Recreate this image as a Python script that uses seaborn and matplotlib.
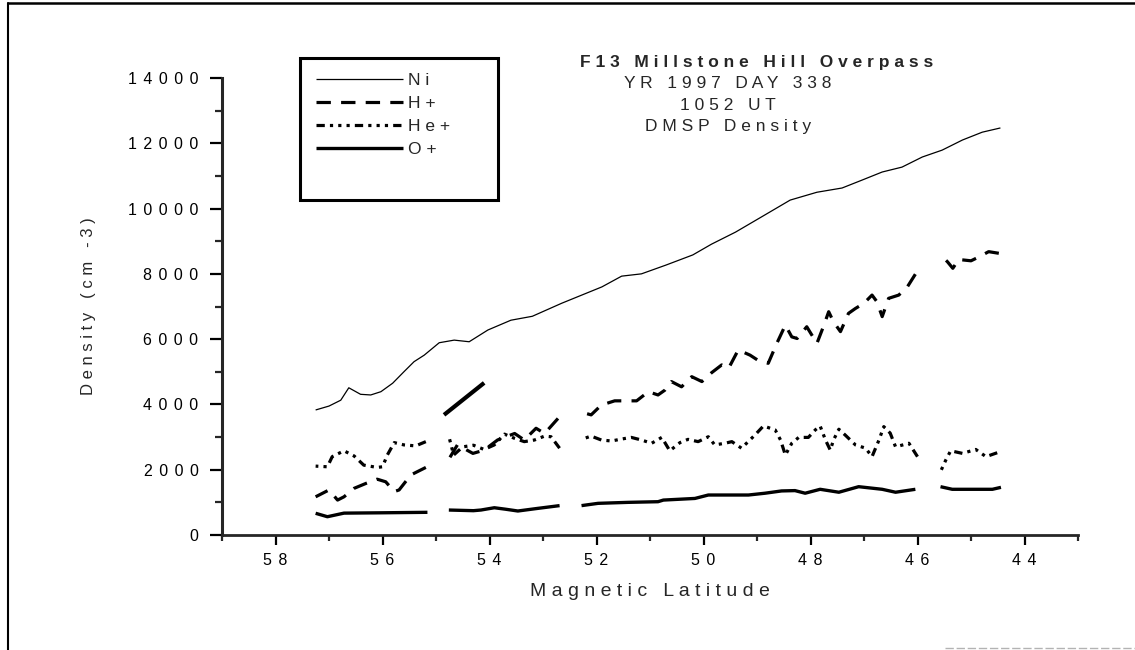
import numpy as np
import pandas as pd
import matplotlib
matplotlib.use("Agg")
import matplotlib.pyplot as plt
from matplotlib.lines import Line2D
from matplotlib.patches import Rectangle
import seaborn as sns

# ---------------------------------------------------------------------------
# DMSP F13 ion densities along the Millstone Hill overpass (NaN = data gap)
# ---------------------------------------------------------------------------
ni_lat = [57.25, 57.0, 56.78, 56.63, 56.41, 56.22, 56.03, 55.81, 55.6, 55.41,
          55.22, 54.94, 54.66, 54.38, 54.03, 53.6, 53.2, 52.65, 51.9, 51.53,
          51.16, 50.7, 50.2, 49.85, 49.4, 48.91, 48.38, 47.88, 47.41, 47.04,
          46.66, 46.29, 45.91, 45.54, 45.16, 44.79, 44.45]
ni_val = [3830, 3950, 4130, 4510, 4310, 4290, 4390, 4650, 5000, 5310,
          5510, 5890, 5970, 5920, 6280, 6580, 6700, 7100, 7600, 7930,
          8000, 8270, 8580, 8910, 9280, 9750, 10260, 10500, 10630, 10870,
          11120, 11270, 11580, 11790, 12100, 12340, 12470]

hplus_lat = [57.25, 57.0, 56.84, 56.72, 56.53, 56.31, 56.1, 55.94, 55.78, 55.69,
             55.47, 55.19, np.nan,
             54.75, 54.6, 54.31, 54.1, 53.85, 53.53, 53.35, 53.13, 52.97, 52.72,
             np.nan,
             52.32, 52.1, 51.91, 51.66, 51.41, 51.25, 51.03, 50.85, 50.72, 50.6,
             50.41, 50.22, 50.03, 49.85, 49.66, 49.53, 49.35, 49.13, 48.97, 48.79,
             48.63, 48.47, 48.35, 48.25, 48.07, 47.88, 47.76, 47.66, 47.57, 47.44,
             47.29, 47.16, 47.0, 46.85, 46.76, 46.66, 46.54, 46.35, 46.19, 46.04,
             np.nan,
             45.6, 45.44, 45.34, 45.23, 45.0, 44.85, 44.67, 44.48]
hplus_val = [1170, 1380, 1070, 1170, 1430, 1580, 1710, 1630, 1330, 1380,
             1840, 2070, np.nan,
             2350, 2760, 2500, 2600, 2910, 3110, 2910, 3270, 3110, 3570,
             np.nan,
             3780, 3680, 3980, 4110, 4110, 4110, 4390, 4290, 4440, 4700,
             4540, 4850, 4700, 4970, 5210, 5110, 5670, 5510, 5340, 5260,
             5870, 6430, 6070, 6020, 6380, 5870, 6380, 6840, 6530, 6230,
             6790, 6940, 7100, 7350, 7150, 6690, 7250, 7350, 7600, 7990,
             np.nan,
             8630, 8370, 8170, 8440, 8400, 8520, 8680, 8630]

# short isolated H+ burst just after the first gap
burst_lat = [54.85, 54.1]
burst_val = [3680, 4660]

heplus_lat = [57.25, 57.03, 56.94, 56.72, 56.53, 56.35, 56.1, 56.0, 55.91, 55.78,
              55.6, 55.38, 55.19, np.nan,
              54.75, 54.67, 54.5, 54.3, 54.1, 53.91, 53.72, 53.53, 53.35, 53.16,
              52.97, 52.85, 52.69, np.nan,
              52.28, 52.1, 51.91, 51.72, 51.53, 51.35, 51.16, 50.97, 50.78, 50.63,
              50.44, 50.29, 50.1, 49.91, 49.79, 49.6, 49.47, 49.29, 49.04, 48.88,
              48.66, 48.56, 48.47, 48.35, 48.22, 48.04, 47.91, 47.82, 47.72, 47.63,
              47.57, 47.47, 47.35, 47.16, 46.97, 46.85, 46.72, 46.63, 46.51, 46.41,
              46.16, 46.0, np.nan,
              45.57, 45.47, 45.38, 45.16, 44.91, 44.72, 44.51]
heplus_val = [2110, 2090, 2400, 2580, 2420, 2140, 2070, 2090, 2450, 2830,
              2760, 2730, 2860, np.nan,
              2960, 2450, 2700, 2750, 2620, 2760, 3090, 2960, 2860, 2910,
              3030, 3010, 2660, np.nan,
              2930, 3030, 2910, 2880, 2940, 2990, 2910, 2810, 2990, 2580,
              2830, 2930, 2860, 3010, 2760, 2810, 2860, 2660, 3060, 3340,
              3220, 2910, 2450, 2810, 2990, 2990, 3220, 3340, 2910, 2600,
              2910, 3240, 3060, 2760, 2660, 2400, 2910, 3320, 3120, 2700,
              2810, 2400, np.nan,
              1940, 2300, 2580, 2500, 2620, 2400, 2520]

oplus_lat = [57.25, 57.03, 56.72, 56.03, 55.16, np.nan,
             54.76, 54.3, 54.16, 53.91, 53.7, 53.47, 53.1, 52.69, np.nan,
             52.28, 51.97, 51.41, 50.85, 50.75, 50.16, 49.91, 49.16, 48.85, 48.54,
             48.29, 48.1, 47.82, 47.47, 47.1, 46.66, 46.41, 46.04, np.nan,
             45.57, 45.35, 44.6, 44.44]
oplus_val = [665, 560, 670, 680, 695, np.nan,
             765, 745, 765, 835, 790, 735, 815, 900, np.nan,
             900, 970, 1000, 1020, 1070, 1120, 1225, 1225, 1280, 1350,
             1360, 1280, 1400, 1310, 1480, 1400, 1310, 1400, np.nan,
             1480, 1400, 1400, 1460]

series_names = ["Ni", "H+", "He+", "O+"]

xtick_values = [58, 56, 54, 52, 50, 48, 46, 44]
ytick_values = [0, 2000, 4000, 6000, 8000, 10000, 12000, 14000]

title_lines = ["F13 Millstone Hill Overpass", "YR 1997 DAY 338", "1052 UT", "DMSP Density"]
x_label = "Magnetic Latitude"
y_label = "Density (cm -3)"

THIN = "\u2009"


def spaced(text, gap=" ", word_gap="   "):
    """Letter-spaced text: `gap` between letters, `word_gap` between words."""
    return word_gap.join(gap.join(word) for word in text.split(" "))


def segments(lat, val):
    """Long-form frame with a segment id so NaN gaps break the line."""
    lat = np.asarray(lat, dtype=float)
    val = np.asarray(val, dtype=float)
    seg = np.cumsum(np.isnan(lat))
    df = pd.DataFrame({"lat": lat, "val": val, "seg": seg})
    return df.dropna()


sns.set_style("ticks")
plt.rcParams["font.family"] = ["Liberation Sans", "DejaVu Sans"]

W, H = 1135, 650
fig = plt.figure(figsize=(W / 100, H / 100), dpi=100)
fig.patch.set_facecolor("white")

ax_left, ax_right, ax_top, ax_bottom = 222, 1078, 78, 535
ax = fig.add_axes([ax_left / W, 1 - ax_bottom / H,
                   (ax_right - ax_left) / W, (ax_bottom - ax_top) / H])

styles = {
    "Ni": dict(linewidth=0.9, linestyle="-"),
    "H+": dict(linewidth=2.3, linestyle=(0, (4.5, 3.2))),
    "He+": dict(linewidth=2.3, linestyle=(0, (2.6, 1.6, 1.0, 1.6, 1.0, 1.6, 1.0, 1.6))),
    "O+": dict(linewidth=2.4, linestyle="-"),
}
data = {
    "Ni": (ni_lat, ni_val),
    "H+": (hplus_lat, hplus_val),
    "He+": (heplus_lat, heplus_val),
    "O+": (oplus_lat, oplus_val),
}

for name in series_names:
    lat, val = data[name]
    sns.lineplot(data=segments(lat, val), x="lat", y="val", units="seg",
                 estimator=None, color="black", ax=ax, legend=False,
                 solid_capstyle="butt", dash_capstyle="butt", **styles[name])

sns.lineplot(x=burst_lat, y=burst_val, color="black", linewidth=3.0,
             ax=ax, legend=False, solid_capstyle="butt")

ax.set_xlim(59, 43)
ax.set_ylim(0, 14000)
ax.set_xticks(xtick_values)
ax.set_xticks(np.arange(43, 60, 2), minor=True)
ax.set_yticks(ytick_values)
ax.set_yticks(np.arange(1000, 14000, 2000), minor=True)
ax.set_xticklabels([spaced(str(v), THIN * 2) for v in xtick_values])
ax.set_yticklabels([spaced(str(v), THIN * 2) for v in ytick_values])

for side in ("top", "right"):
    ax.spines[side].set_visible(False)
ax.spines["left"].set_linewidth(2.2)
ax.spines["bottom"].set_linewidth(2.0)

ax.tick_params(axis="both", which="major", direction="out", width=1.6,
               labelsize=11.5, colors="black")
ax.tick_params(axis="y", which="major", length=9, pad=8)
ax.tick_params(axis="y", which="minor", direction="out", length=5, width=1.6)
ax.tick_params(axis="x", which="major", length=7, pad=6)
ax.tick_params(axis="x", which="minor", direction="out", length=4.5, width=1.6)

ax.set_xlabel(spaced(x_label), fontsize=14)
ax.set_ylabel(spaced(y_label), fontsize=12)
ax.xaxis.set_label_coords(0.5, (ax_bottom - 592) / (ax_bottom - ax_top))
ax.yaxis.set_label_coords((88 - ax_left) / (ax_right - ax_left), 0.5)
ax.xaxis.label.set_va("center")
ax.yaxis.label.set_va("center")

# title block
title_y = [62, 84, 106, 127]
title_x = [757, 728, 728, 728]
for i, (line, tx, ty) in enumerate(zip(title_lines, title_x, title_y)):
    fig.text(tx / W, 1 - ty / H, spaced(line), ha="center", va="center",
             fontsize=12.5, fontweight="bold" if i == 0 else "normal")

# legend inside a heavy box
fig.add_artist(Rectangle((300 / W, 1 - 200 / H), 198 / W, 142 / H,
                         transform=fig.transFigure, fill=False,
                         edgecolor="black", linewidth=2.2))
handles = [Line2D([0], [0], color="black", solid_capstyle="butt",
                  dash_capstyle="butt", **styles[n]) for n in series_names]
fig.legend(handles, [spaced(n) for n in series_names], loc="upper left",
           bbox_to_anchor=(316 / W, 1 - 73 / H), frameon=False,
           fontsize=12.5, handlelength=5.0, handletextpad=0.3,
           labelspacing=0.45, borderpad=0, borderaxespad=0)

# page border
fig.add_artist(Line2D([8 / W, 8 / W], [0, 1 - 3 / H], transform=fig.transFigure,
                      color="black", linewidth=1.5))
fig.add_artist(Line2D([8 / W, 1], [1 - 3 / H, 1 - 3 / H], transform=fig.transFigure,
                      color="black", linewidth=1.8))
fig.add_artist(Line2D([945 / W, 1], [1 - 648 / H, 1 - 648 / H], transform=fig.transFigure,
                      color="0.7", linewidth=1.0, linestyle=(0, (6, 2))))

fig.savefig("out.png", dpi=100, facecolor="white")
